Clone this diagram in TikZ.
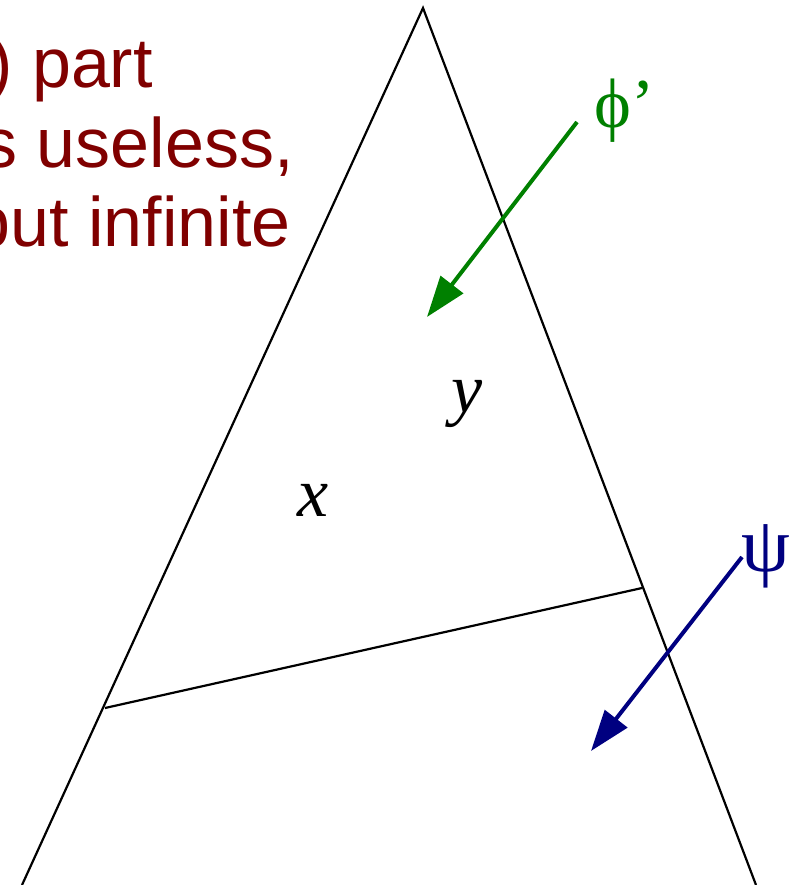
\documentclass[tikz,border=0pt]{standalone}
\usepackage{fontspec}
\setmainfont{Liberation Serif}
\newfontfamily\labsans{Liberation Sans}
\usetikzlibrary{arrows.meta}
\definecolor{darkred}{RGB}{128,0,0}
\definecolor{dgreen}{RGB}{0,128,0}
\definecolor{navyb}{RGB}{0,0,128}
\tikzset{
  edge/.style={line width=2.2pt, black},
  flow/.style={line width=4pt, -{Triangle[length=41pt,width=28pt]}},
  redtxt/.style={text=darkred, font=\labsans\fontsize{70}{78}\selectfont, inner sep=0pt, anchor=base east},
  greek/.style={font=\fontsize{70}{78}\selectfont, inner sep=0pt, anchor=base west},
  var/.style={font=\fontsize{70}{78}\selectfont\itshape, inner sep=0pt, anchor=base}
}
\begin{document}
\begin{tikzpicture}[x=1pt,y=-1pt]
\useasboundingbox (0,0) rectangle (795,885);
\clip (0,0) rectangle (795,885);
% triangle
\coordinate (apex) at (423,8);
\coordinate (bl) at (22,885);
\coordinate (br) at (756,885);
\coordinate (cl) at (105,708);
\coordinate (cr) at (642,588);
\draw[edge] (bl) -- (apex) -- (br);
\draw[edge] (cl) -- (cr);
% red text
\node[redtxt] (t1) at (153,88) {) part};
\node[redtxt] (t2) at (294,168) {s useless,};
\node[redtxt] (t3) at (291,246) {but infinite};
% labels
\node[var] (x) at (313,516) {x};
\node[var] (y) at (467,412) {y};
\node[greek, text=dgreen] (phi) at (594,128) {ϕ’};
\node[greek, text=navyb, font=\fontsize{78}{80}\selectfont] (psi) at (741,571) {ψ};
% arrows
\coordinate (ps) at (577,122);
\coordinate (pe) at (427,317);
\coordinate (qs) at (742,557);
\coordinate (qe) at (591,751);
\draw[flow, dgreen] (ps) -- (pe);
\draw[flow, navyb] (qs) -- (qe);
\end{tikzpicture}
\end{document}
